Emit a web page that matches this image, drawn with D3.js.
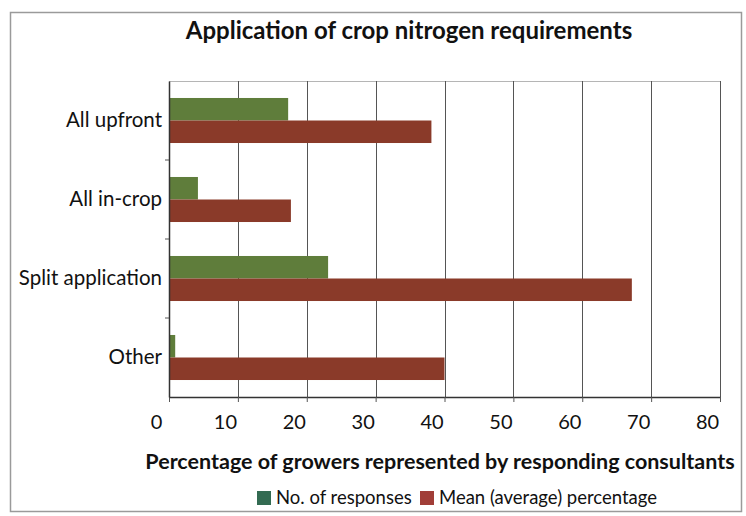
<!DOCTYPE html>
<html>
<head>
<meta charset="utf-8">
<script src="https://cdn.jsdelivr.net/npm/d3@7"></script>
<style>
  body { margin: 0; background: #fff; }
  svg { display: block; font-family: Lato, "Open Sans", sans-serif; }
</style>
</head>
<body>
<div id="chart"></div>
<script>
const categories = ['All upfront', 'All in-crop', 'Split application', 'Other']
const responses = [17.3, 4.2, 23.1, 0.9]
const meanPercentage = [38.1, 17.7, 67.2, 40.0]
const xTicks = [0, 10, 20, 30, 40, 50, 60, 70, 80]
const seriesNames = ['No. of responses', 'Mean (average) percentage']

const width = 746
const height = 516
const plot = { left: 169, right: 720, top: 81, bottom: 397 }
const font = 'Lato, "Open Sans", sans-serif'
const barColors = ['#5f7d3b', '#8a3a29']
const legendColors = ['#336b52', '#a13e38']

const svg = d3.select('#chart')
  .append('svg')
  .attr('width', width)
  .attr('height', height)

// outer frame
svg.append('rect')
  .attr('x', 10.5)
  .attr('y', 12.5)
  .attr('width', 731)
  .attr('height', 499)
  .attr('fill', 'none')
  .attr('stroke', '#9a9a9a')
  .attr('stroke-width', 1.5)

const x = d3.scaleLinear()
  .domain([0, 80])
  .range([plot.left, plot.right])

const y = d3.scaleBand()
  .domain(categories)
  .range([plot.top, plot.bottom])
  .paddingInner(0.43)
  .paddingOuter(0.215)

const yInner = d3.scaleBand()
  .domain([0, 1])
  .range([0, y.bandwidth()])

// plot top border
svg.append('line')
  .attr('x1', plot.left)
  .attr('x2', plot.right)
  .attr('y1', plot.top + 0.5)
  .attr('y2', plot.top + 0.5)
  .attr('stroke', '#b5b5b5')

// vertical gridlines
svg.append('g')
  .selectAll('line')
  .data(xTicks.slice(1))
  .join('line')
  .attr('x1', d => Math.round(x(d)) + 0.5)
  .attr('x2', d => Math.round(x(d)) + 0.5)
  .attr('y1', plot.top)
  .attr('y2', plot.bottom)
  .attr('stroke', '#555')
  .attr('stroke-width', 1)

// bars
const rows = categories.map((c, i) => ({ category: c, values: [responses[i], meanPercentage[i]] }))

svg.append('g')
  .selectAll('g')
  .data(rows)
  .join('g')
  .attr('transform', d => 'translate(0,' + y(d.category) + ')')
  .selectAll('rect')
  .data(d => d.values.map((v, k) => ({ v, k })))
  .join('rect')
  .attr('x', x(0))
  .attr('y', d => yInner(d.k))
  .attr('width', d => x(d.v) - x(0))
  .attr('height', yInner.bandwidth())
  .attr('fill', d => barColors[d.k])

// x axis
const xAxis = svg.append('g')
  .attr('transform', 'translate(0,' + plot.bottom + ')')
  .call(d3.axisBottom(x).tickValues(xTicks).tickSize(5).tickPadding(13).tickSizeOuter(0))
  .attr('font-family', font)
xAxis.select('.domain').attr('stroke', '#333').attr('stroke-width', 1.5)
xAxis.selectAll('.tick line').attr('stroke', '#555')
xAxis.selectAll('.tick text')
  .attr('font-size', 20)
  .attr('fill', '#111')
  .attr('dx', -13)

// y axis
const yAxis = svg.append('g')
  .attr('transform', 'translate(' + plot.left + ',0)')
  .call(d3.axisLeft(y).tickSize(0).tickPadding(7))
  .attr('font-family', font)
yAxis.select('.domain').attr('stroke', '#333').attr('stroke-width', 1.5)
yAxis.selectAll('.tick text')
  .attr('font-size', 20.5)
  .attr('fill', '#111')

// category separator ticks on y axis
svg.append('g')
  .selectAll('line')
  .data(categories.slice(1))
  .join('line')
  .attr('x1', plot.left - 4)
  .attr('x2', plot.left)
  .attr('y1', d => y(d) - y.step() * y.paddingInner() / 2)
  .attr('y2', d => y(d) - y.step() * y.paddingInner() / 2)
  .attr('stroke', '#555')

// title
svg.append('text')
  .attr('x', 409)
  .attr('y', 39)
  .attr('text-anchor', 'middle')
  .attr('font-size', 24)
  .attr('font-weight', 'bold')
  .attr('fill', '#111')
  .text('Application of crop nitrogen requirements')

// x axis title
svg.append('text')
  .attr('x', 440)
  .attr('y', 469)
  .attr('text-anchor', 'middle')
  .attr('font-size', 21.5)
  .attr('font-weight', 'bold')
  .attr('fill', '#111')
  .text('Percentage of growers represented by responding consultants')

// legend
const legend = svg.append('g')
  .attr('transform', 'translate(257,491)')

const legendX = [0, 163]
const item = legend.selectAll('g')
  .data(seriesNames)
  .join('g')
  .attr('transform', (d, i) => 'translate(' + legendX[i] + ',0)')

item.append('rect')
  .attr('width', 14)
  .attr('height', 14)
  .attr('fill', (d, i) => legendColors[i])

item.append('text')
  .attr('x', 19)
  .attr('y', 13)
  .attr('font-size', 18.5)
  .attr('fill', '#111')
  .text(d => d)
</script>
</body>
</html>
